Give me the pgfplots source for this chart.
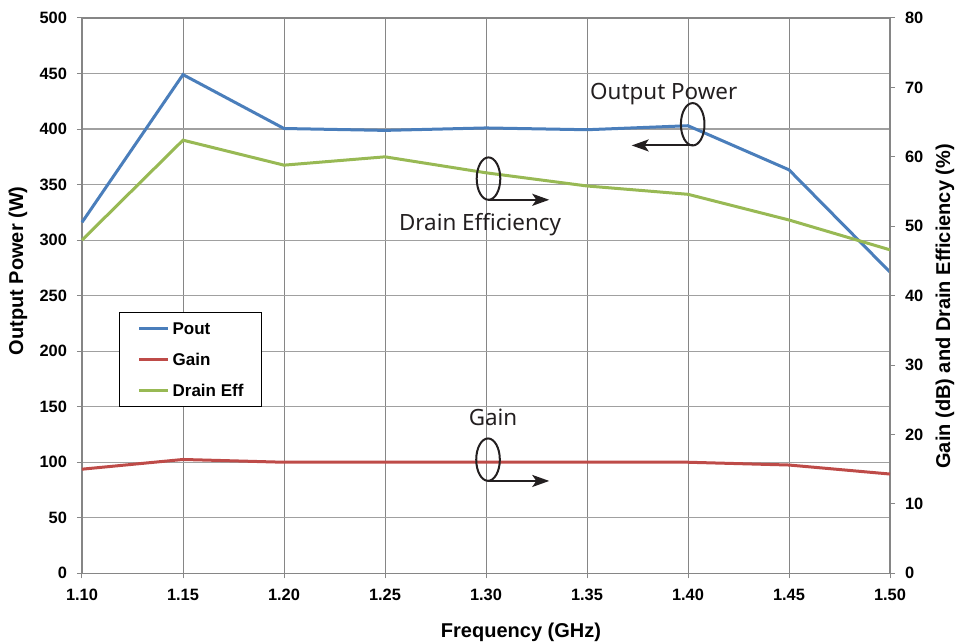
\documentclass[border=0pt]{standalone}
\usepackage{pgfplots}
\pgfplotsset{compat=1.18}
\usepackage{fontspec}
\setmainfont{Liberation Sans}
\newfontfamily\annot{Noto Sans}
\usetikzlibrary{arrows.meta}
\definecolor{cPout}{HTML}{4A7EBB}
\definecolor{cGain}{HTML}{BE4B48}
\definecolor{cEff}{HTML}{98B954}
\definecolor{gridv}{HTML}{868686}
\definecolor{gridh}{HTML}{A0A0A0}
\definecolor{annc}{HTML}{231F20}

\pgfplotstableread{
f pout
1.10 316
1.15 449
1.20 400.5
1.25 398.8
1.30 401
1.35 399.4
1.40 403
1.45 363.3
1.50 271.2
}\tpout
\pgfplotstableread{
f gain
1.10 15.0
1.15 16.4
1.20 16.0
1.25 16.0
1.30 16.0
1.35 16.0
1.40 16.0
1.45 15.6
1.50 14.3
}\tgain
\pgfplotstableread{
f eff
1.10 48.0
1.15 62.4
1.20 58.8
1.25 60.0
1.30 57.7
1.35 55.8
1.40 54.6
1.45 50.9
1.50 46.6
}\teff

\begin{document}
\begin{tikzpicture}
\pgfplotsset{
  base/.style={
    scale only axis, width=404pt, height=277.65pt,
    xmin=1.1, xmax=1.5,
    tick align=outside, major tick length=2.5pt,
    tick style={gridv, line width=0.5pt},
    ticklabel style={font=\bfseries\fontsize{8.2}{9}\selectfont, text=black},
  },
}
\begin{axis}[base,
  ymin=0, ymax=500,
  xtick={1.10,1.15,1.20,1.25,1.30,1.35,1.40,1.45,1.50},
  ytick={0,50,100,150,200,250,300,350,400,450,500},
  xticklabel={\pgfmathprintnumber[fixed,fixed zerofill,precision=2,assume math mode=true]{\tick}},
  yticklabel={\pgfmathprintnumber[fixed,assume math mode=true]{\tick}},
  xticklabel style={yshift=-2pt},
  yticklabel style={xshift=-1.5pt},
  grid=major,
  x grid style={gridv, line width=0.5pt},
  y grid style={gridh, line width=0.6pt},
  axis line style={gridv, line width=0.6pt},
  xtick pos=bottom, ytick pos=left,
  clip=false,
]
\addplot[cPout, line width=1.5pt] table[x=f, y=pout] {\tpout};
\node[rotate=90, font=\bfseries\fontsize{10}{12}\selectfont] at (rel axis cs:-0.0792,0.5447) {Output Power (W)};
\node[anchor=base, font=\bfseries\fontsize{10}{12}\selectfont] at (rel axis cs:0.5433,-0.1148) {Frequency (GHz)};
\end{axis}
\begin{axis}[base,
  ymin=0, ymax=80,
  ytick={0,10,20,30,40,50,60,70,80},
  yticklabel={\pgfmathprintnumber[fixed,assume math mode=true]{\tick}},
  yticklabel style={xshift=1.5pt},
  axis x line=none,
  axis y line*=right,
  axis line style={gridv, line width=0.6pt},
  ytick pos=right,
  clip=false,
  legend style={at={(0.0458,0.4714)}, anchor=north west, draw=black, line width=0.6pt,
    font=\bfseries\fontsize{8.5}{10}\selectfont, inner xsep=9pt, inner ysep=5pt,
    row sep=9.3pt, nodes={inner sep=0pt, text height=6.2pt, text depth=0pt}},
  legend cell align=left,
  legend image code/.code={\draw[#1, line width=1.5pt] (0pt,0pt) -- (14.5pt,0pt);},
  /tikz/every odd column/.append style={column sep=1.5pt},
]
\addlegendimage{cPout, line width=1.5pt}
\addlegendentry{Pout}
\addplot[cGain, line width=1.5pt] table[x=f, y=gain] {\tgain};
\addlegendentry{Gain}
\addplot[cEff, line width=1.5pt] table[x=f, y=eff] {\teff};
\addlegendentry{Drain Eff}
% annotations
\draw[annc, line width=1pt] (rel axis cs:0.7558,0.8086) ellipse [x radius=5.9pt, y radius=10.6pt];
\draw[annc, line width=1pt, -{Stealth[length=8.5pt,width=6pt,inset=2pt]}] (rel axis cs:0.7558,0.7705) -- (rel axis cs:0.6803,0.7705);
\draw[annc, line width=1pt] (rel axis cs:0.5031,0.7108) ellipse [x radius=5.9pt, y radius=10.6pt];
\draw[annc, line width=1pt, -{Stealth[length=8.5pt,width=6pt,inset=2pt]}] (rel axis cs:0.5031,0.6726) -- (rel axis cs:0.5783,0.6726);
\draw[annc, line width=1pt] (rel axis cs:0.5025,0.2047) ellipse [x radius=5.9pt, y radius=10.6pt];
\draw[annc, line width=1pt, -{Stealth[length=8.5pt,width=6pt,inset=2pt]}] (rel axis cs:0.5025,0.1663) -- (rel axis cs:0.5783,0.1663);
\node[anchor=base, text=annc, font=\annot\fontsize{11.2}{13}\selectfont] at (rel axis cs:0.7200,0.8528) {Output Power};
\node[anchor=base, text=annc, font=\annot\fontsize{11.2}{13}\selectfont] at (rel axis cs:0.4926,0.6173) {Drain Efficiency};
\node[anchor=base, text=annc, font=\annot\fontsize{11.2}{13}\selectfont] at (rel axis cs:0.5087,0.2654) {Gain};
\node[rotate=90, font=\bfseries\fontsize{10}{12}\selectfont] at (rel axis cs:1.068,0.4807) {Gain (dB) and Drain Efficiency (\%)};
\coordinate (SW) at (rel axis cs:0,0);
\end{axis}
\pgfresetboundingbox
\path[use as bounding box] ([shift={(-41pt,-34.85pt)}]SW) rectangle ([shift={(440pt,286.65pt)}]SW);
\end{tikzpicture}
\end{document}
